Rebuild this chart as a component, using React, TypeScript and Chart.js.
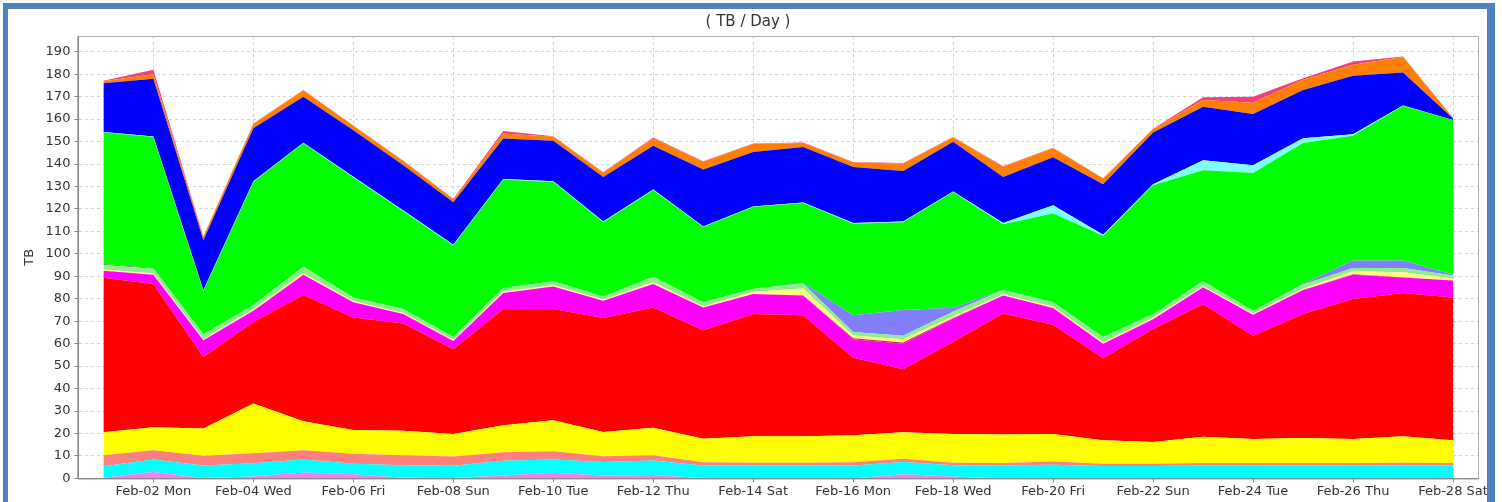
import React, { useEffect, useRef } from "react";
import { Chart, registerables } from "chart.js";

Chart.register(...registerables);

const days = [
  "Feb-01 Sun", "Feb-02 Mon", "Feb-03 Tue", "Feb-04 Wed", "Feb-05 Thu", "Feb-06 Fri", "Feb-07 Sat",
  "Feb-08 Sun", "Feb-09 Mon", "Feb-10 Tue", "Feb-11 Wed", "Feb-12 Thu", "Feb-13 Fri", "Feb-14 Sat",
  "Feb-15 Sun", "Feb-16 Mon", "Feb-17 Tue", "Feb-18 Wed", "Feb-19 Thu", "Feb-20 Fri", "Feb-21 Sat",
  "Feb-22 Sun", "Feb-23 Mon", "Feb-24 Tue", "Feb-25 Wed", "Feb-26 Thu", "Feb-27 Fri", "Feb-28 Sat",
];

// series values (TB per day), bottom layer first
const violet = [0.3, 2.8, 0.2, 0.8, 2.6, 1.8, 0.3, 0.2, 1.3, 2.5, 1.3, 1.5, 0.2, 0, 0, 0, 1.9, 0.8, 0, 0, 0, 0, 0, 0, 0, 0, 0, 0];
const cyan = [5.1, 5.6, 5.5, 6.0, 5.8, 4.7, 5.6, 5.4, 6.6, 5.9, 6.0, 6.5, 5.5, 5.7, 5.7, 5.7, 5.4, 5.1, 5.7, 6.1, 5.5, 5.5, 5.7, 5.7, 5.7, 5.7, 5.8, 5.7];
const salmon = [4.9, 4.1, 4.4, 4.4, 4.1, 4.5, 4.4, 4.2, 3.7, 3.7, 2.6, 2.3, 1.5, 1.3, 1.3, 1.5, 1.5, 1.1, 1.2, 1.4, 1.0, 1.0, 1.2, 1.2, 1.2, 1.2, 1.2, 1.2];
const yellow = [10.3, 10.3, 12.1, 22.2, 13.0, 10.5, 10.9, 10.0, 12.1, 13.8, 10.8, 12.2, 10.5, 11.8, 11.8, 12.0, 11.8, 12.8, 12.6, 12.3, 10.5, 9.7, 11.7, 10.7, 11.1, 10.7, 11.8, 10.1];
const red = [68.7, 63.8, 31.9, 36.3, 56.2, 50.2, 47.8, 37.7, 51.7, 49.5, 50.7, 53.6, 48.3, 54.4, 53.9, 34.5, 28.0, 41.0, 53.9, 48.6, 36.5, 50.3, 59.0, 45.9, 55.2, 62.3, 63.8, 63.6];
const magenta = [3.2, 4.1, 7.4, 5.0, 9.0, 6.7, 4.2, 3.7, 7.2, 10.1, 7.7, 10.5, 10.1, 8.9, 8.7, 8.3, 11.4, 10.4, 8.0, 7.5, 6.5, 4.4, 7.5, 9.4, 10.7, 10.8, 6.9, 7.5];
const brown = [0, 0, 0, 0, 0, 0, 0, 0, 0, 0, 0, 0, 0, 0, 0, 0.4, 0.5, 0.2, 0, 0, 0, 0, 0, 0, 0, 0.2, 0, 0];
const lightYellow = [0.5, 0.5, 0.5, 0.5, 0.6, 0.5, 0.5, 0.4, 0.5, 0.5, 0.4, 0.7, 0.5, 1.0, 3.2, 1.2, 1.5, 0.8, 0.5, 0.5, 0.5, 0.5, 0.5, 0.4, 0.5, 1.3, 2.3, 0.9];
const lightGreen = [2.0, 2.2, 2.2, 2.0, 3.0, 1.7, 1.7, 1.4, 1.7, 1.8, 1.5, 2.5, 1.8, 1.3, 2.2, 1.6, 1.5, 2.1, 2.0, 2.0, 2.5, 1.8, 2.2, 1.4, 1.9, 1.5, 1.9, 1.3];
const gray = [0.5, 0.3, 0, 0, 0, 0, 0, 0, 0, 0, 0, 0, 0, 0, 0, 0, 0, 0, 0, 0, 0, 0, 0, 0, 0, 0, 0, 0];
const slate = [0, 0, 0, 0, 0, 0, 0, 0, 0, 0, 0, 0, 0, 0, 0.2, 7.4, 11.5, 1.7, 0, 0, 0, 0, 0, 0, 0.3, 3.3, 3.3, 0.5];
const green = [58.5, 58.3, 19.3, 54.8, 54.9, 53.4, 43.6, 40.7, 48.2, 44.2, 33.1, 38.5, 33.5, 36.4, 35.6, 40.8, 39.1, 51.5, 29.3, 39.6, 45.0, 57.3, 49.4, 61.3, 62.8, 55.6, 68.8, 68.8];
const lightCyan = [0.3, 0.3, 0.3, 0.3, 0.3, 0.3, 0.3, 0.3, 0.3, 0.3, 0.3, 0.3, 0.3, 0.3, 0.3, 0.3, 0.3, 0.3, 0.5, 3.6, 0.5, 0.5, 4.5, 3.5, 2.1, 0.7, 0.2, 0];
const blue = [21.7, 25.7, 22.2, 23.6, 20.5, 20.7, 20.2, 19.0, 18.1, 18.0, 19.8, 19.5, 25.3, 24.3, 24.7, 25.0, 22.5, 22.1, 20.5, 21.4, 22.5, 23.0, 23.8, 22.8, 21.5, 26.0, 14.7, 0.7];
const orange = [0.8, 2.0, 1.5, 1.9, 2.7, 2.0, 1.8, 1.3, 2.2, 1.8, 1.8, 3.3, 3.5, 3.5, 1.8, 2.0, 3.3, 1.9, 4.5, 4.0, 2.5, 1.5, 3.0, 5.0, 4.5, 4.9, 6.9, 0.2];
const pink = [0.3, 2.0, 0.2, 0.2, 0.3, 0.2, 0.2, 0.2, 1.1, 0.3, 0.3, 0.4, 0.2, 0.2, 0.2, 0.2, 0.3, 0.2, 0.3, 0.2, 0.2, 0.2, 1.2, 2.7, 0.7, 1.5, 0.3, 0.1];

const seriesList: [string, number[], string][] = [
  ["violet", violet, "#ee82ee"],
  ["cyan", cyan, "#00ffff"],
  ["salmon", salmon, "#ff7f7f"],
  ["yellow", yellow, "#ffff00"],
  ["red", red, "#ff0000"],
  ["magenta", magenta, "#ff00ff"],
  ["brown", brown, "#a04040"],
  ["lightYellow", lightYellow, "#ffff80"],
  ["lightGreen", lightGreen, "#90ee90"],
  ["gray", gray, "#708070"],
  ["slate", slate, "#8080ff"],
  ["green", green, "#00ff00"],
  ["lightCyan", lightCyan, "#80ffff"],
  ["blue", blue, "#0000ff"],
  ["orange", orange, "#ff8000"],
  ["pink", pink, "#f04080"],
];

const FONT = "'DejaVu Sans', sans-serif";
const GRID = "#d4d4d4";

const frameLines = {
  id: "frameLines",
  afterDraw(chart: any) {
    const { ctx, chartArea } = chart;
    ctx.save();
    ctx.setLineDash([]);
    ctx.lineWidth = 1;
    ctx.strokeStyle = "#b0b0b0";
    ctx.beginPath();
    ctx.moveTo(chartArea.left, chartArea.top + 0.5);
    ctx.lineTo(chartArea.right + 0.5, chartArea.top + 0.5);
    ctx.lineTo(chartArea.right + 0.5, chartArea.bottom);
    ctx.stroke();
    ctx.strokeStyle = "#888";
    ctx.beginPath();
    ctx.moveTo(chartArea.left - 0.5, chartArea.top);
    ctx.lineTo(chartArea.left - 0.5, chartArea.bottom + 0.5);
    ctx.lineTo(chartArea.right, chartArea.bottom + 0.5);
    ctx.stroke();
    ctx.restore();
  },
};

export default function App() {
  const ref = useRef<HTMLCanvasElement>(null);
  useEffect(() => {
    if (!ref.current) return;
    const chart = new Chart(ref.current, {
      type: "line",
      data: {
        labels: days,
        datasets: seriesList.map(([name, data, color], i) => ({
          label: name,
          data,
          backgroundColor: color,
          borderColor: color,
          borderWidth: 0,
          pointRadius: 0,
          tension: 0,
          fill: i === 0 ? "origin" : "-1",
        })),
      },
      options: {
        animation: false,
        responsive: false,
        layout: { padding: { left: 18, right: 24, top: 0, bottom: 2 } },
        plugins: {
          legend: { display: false },
          tooltip: { enabled: false },
          title: {
            display: true,
            text: "( TB / Day )",
            color: "#333",
            font: { family: FONT, size: 15, weight: "normal" },
            padding: { top: 13, bottom: 5 },
          },
        },
        scales: {
          x: {
            type: "category",
            offset: true,
            grid: {
              offset: false,
              color: (c: any) => (c.index % 2 === 1 ? GRID : "rgba(0,0,0,0)"),
              tickColor: (c: any) => (c.index % 2 === 1 ? "#888" : "rgba(0,0,0,0)"),
              tickLength: 4,
              drawTicks: true,
            },
            border: { color: "#888", dash: [3, 3], display: true },
            ticks: {
              autoSkip: false,
              maxRotation: 0,
              padding: 1,
              color: "#333",
              font: { family: FONT, size: 13 },
              callback: function (this: any, val: any, idx: number) {
                return idx % 2 === 1 ? days[idx] : "";
              },
            },
          },
          y: {
            stacked: true,
            min: 0,
            max: 197,
            grid: {
              color: GRID,
              tickColor: "#888",
              tickLength: 4,
            },
            border: { color: "#888", dash: [3, 3], display: true },
            title: {
              display: true,
              text: "TB",
              color: "#333",
              font: { family: FONT, size: 13 },
              padding: 4,
            },
            ticks: {
              stepSize: 10,
              includeBounds: false,
              padding: 4,
              color: "#333",
              font: { family: FONT, size: 13 },
            },
          },
        },
      } as any,
      plugins: [frameLines],
    });
    return () => chart.destroy();
  }, []);

  return (
    <div style={{ position: "fixed", left: 0, top: 0, width: 1502, height: 502, overflow: "hidden", background: "#fff" }}>
      <canvas ref={ref} width={1502} height={502} style={{ position: "absolute", left: 0, top: 0 }} />
      <div
        style={{
          position: "absolute",
          left: 3,
          top: 3,
          width: 1492,
          height: 600,
          boxSizing: "border-box",
          borderStyle: "solid",
          borderColor: "#4f81bd",
          borderWidth: "6px 8px 0 5px",
          pointerEvents: "none",
        }}
      />
    </div>
  );
}
